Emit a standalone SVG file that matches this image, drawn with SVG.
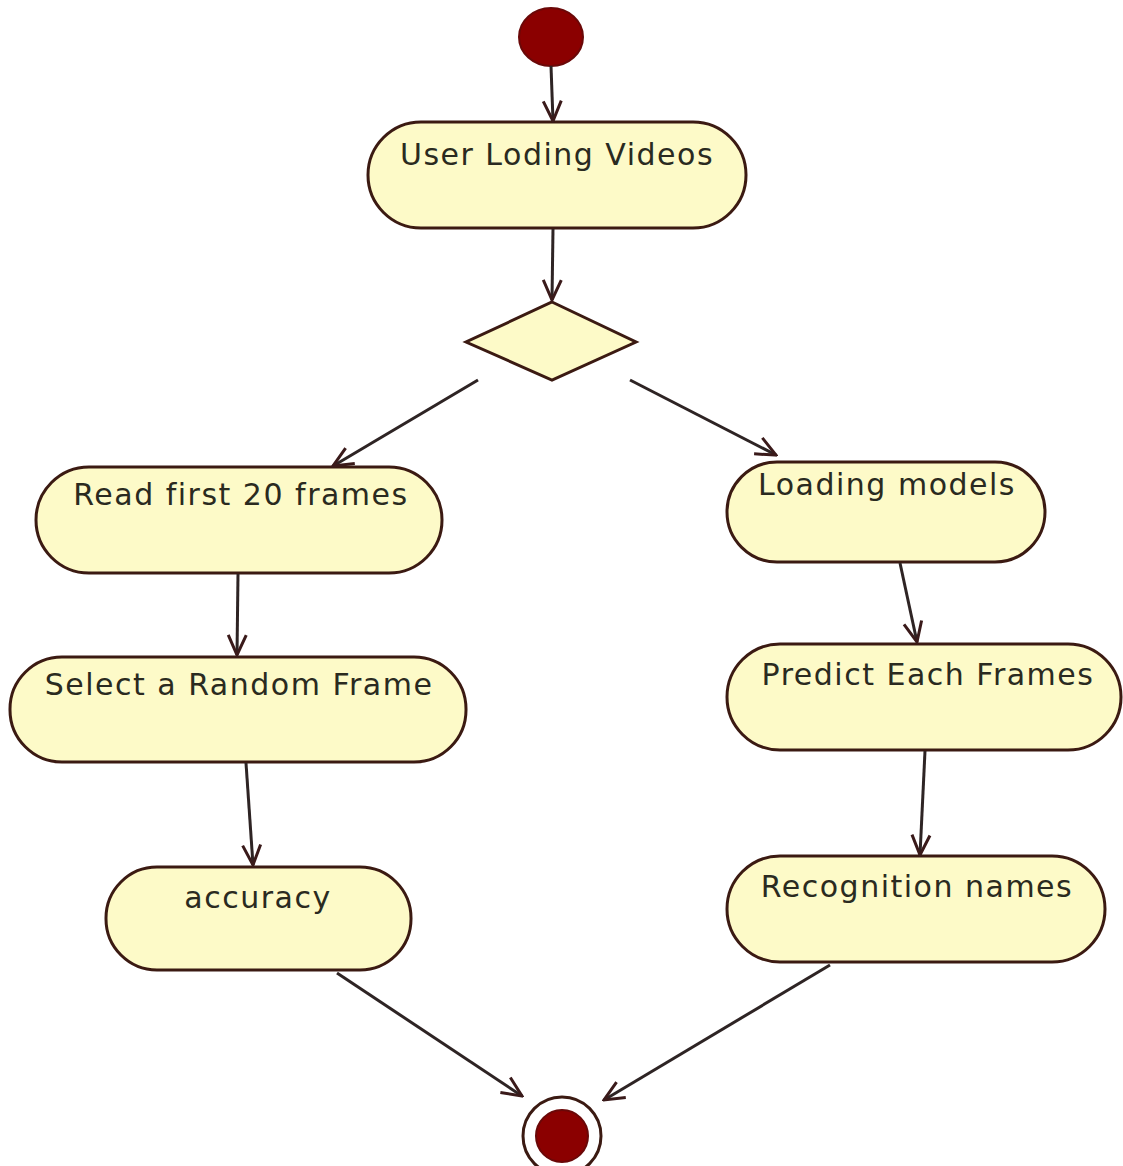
<svg xmlns="http://www.w3.org/2000/svg" width="1123" height="1166" viewBox="0 0 1123 1166">
<defs>
<style>
.act{fill:#fdfac8;stroke:#3b1a12;stroke-width:3}
.lbl{font-family:"DejaVu Sans",Verdana,sans-serif;font-size:30px;letter-spacing:1.5px;fill:#2a2a20;text-anchor:middle}
.edge{fill:none;stroke:#2e2424;stroke-width:3;marker-end:url(#arr)}
</style>
<marker id="arr" viewBox="0 0 24 24" refX="22" refY="12" markerWidth="24" markerHeight="24" markerUnits="userSpaceOnUse" orient="auto">
<path d="M2,3 L22,12 L2,21" fill="none" stroke="#3a1a1a" stroke-width="3"/>
</marker>
</defs>
<rect width="1123" height="1166" fill="#ffffff"/>
<g id="start"><ellipse cx="551" cy="37" rx="32" ry="29" fill="#8b0000" stroke="#6a0808" stroke-width="2"/></g>
<g id="n1"><rect class="act" x="368" y="122" width="378" height="106" rx="53"/><text class="lbl" x="557" y="165">User Loding Videos</text></g>
<g id="decision"><polygon points="552,302 636,342 552,380 466,342" fill="#fdfac8" stroke="#3b1a12" stroke-width="3"/></g>
<g id="n2"><rect class="act" x="36" y="467" width="406" height="106" rx="53"/><text class="lbl" x="241" y="505">Read first 20 frames</text></g>
<g id="n3"><rect class="act" x="10" y="657" width="456" height="105" rx="52"/><text class="lbl" x="239" y="695">Select a Random Frame</text></g>
<g id="n4"><rect class="act" x="106" y="867" width="305" height="103" rx="51"/><text class="lbl" x="258" y="908">accuracy</text></g>
<g id="n5"><rect class="act" x="727" y="462" width="318" height="100" rx="50"/><text class="lbl" x="887" y="495">Loading models</text></g>
<g id="n6"><rect class="act" x="727" y="644" width="394" height="106" rx="53"/><text class="lbl" x="928" y="685">Predict Each Frames</text></g>
<g id="n7"><rect class="act" x="727" y="856" width="378" height="106" rx="53"/><text class="lbl" x="917" y="897">Recognition names</text></g>
<g id="end"><circle cx="562" cy="1136" r="39" fill="#ffffff" stroke="#3b1a12" stroke-width="3"/><circle cx="562" cy="1136" r="26" fill="#8b0000" stroke="#6a0808" stroke-width="2"/></g>
<g id="connectors">
<path class="edge" d="M551,66 L553,121"/>
<path class="edge" d="M553,229 L552,300"/>
<path class="edge" d="M478,380 L333,466"/>
<path class="edge" d="M630,380 L776,455"/>
<path class="edge" d="M238,574 L237,655"/>
<path class="edge" d="M246,763 L253,865"/>
<path class="edge" d="M900,563 L917,642"/>
<path class="edge" d="M925,751 L920,855"/>
<path class="edge" d="M337,973 L522,1096"/>
<path class="edge" d="M830,965 L604,1100"/>
</g>
</svg>
